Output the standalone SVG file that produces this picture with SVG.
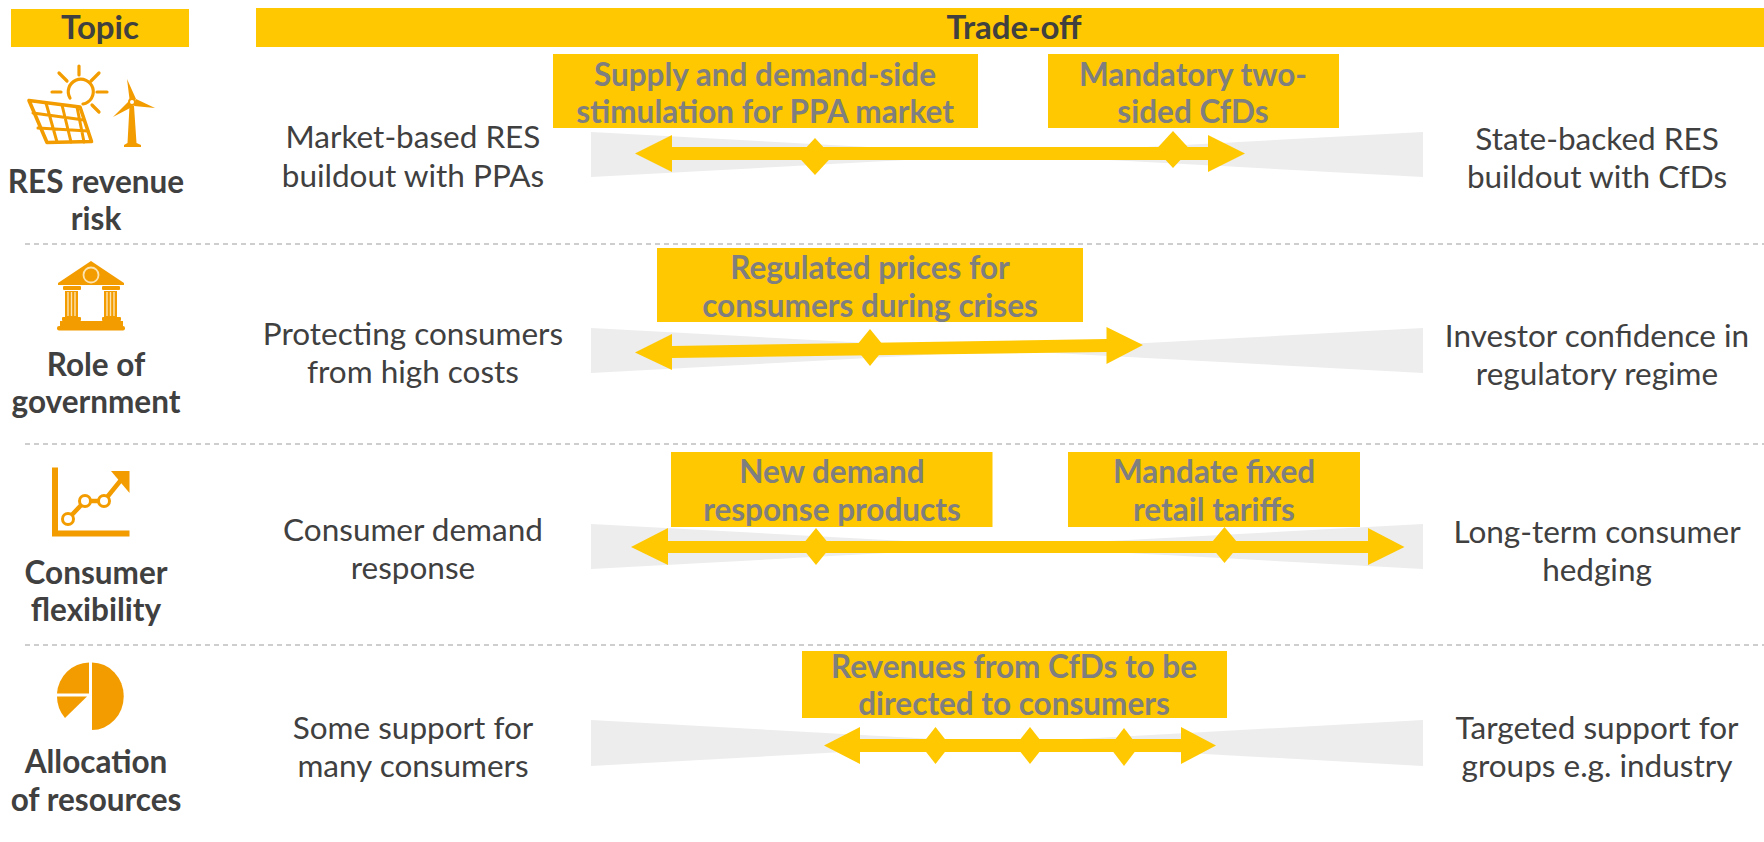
<svg xmlns="http://www.w3.org/2000/svg" width="1764" height="842" viewBox="0 0 1764 842">
<style>
text{font-family:Lato,"Liberation Sans",sans-serif;text-anchor:middle}
.hd{fill:#FFC800}
.hdt{font-size:33px;font-weight:700;fill:#404040}
.tp{font-size:31.500px;font-weight:700;fill:#404040}
.lb{font-size:31.500px;fill:#404040}
.bx{font-size:31.500px;font-weight:700;fill:#7F7F7F}
.band{fill:#EDEDED}
.ar{fill:#FFC800}
.sep{stroke:#BFBFBF;stroke-width:1.5;stroke-dasharray:5 4;fill:none}
.ic{fill:#F39C00}
.ics{fill:none;stroke:#F39C00;stroke-linecap:round;stroke-linejoin:round}
.pale{fill:none;stroke:#FCE3B0}
</style>
<rect width="1764" height="842" fill="#fff"/>
<g id="header-topic"><rect class="hd" x="11" y="9" width="178" height="38"/><text class="hdt" x="100" y="39">Topic</text></g>
<g id="header-tradeoff"><rect class="hd" x="256" y="8" width="1508" height="39"/><text class="hdt" x="1014" y="39">Trade-off</text></g>
<g id="separators">
<line class="sep" x1="25" y1="244" x2="1764" y2="244"/>
<line class="sep" x1="25" y1="444" x2="1764" y2="444"/>
<line class="sep" x1="25" y1="645" x2="1764" y2="645"/>
</g>

<g id="topic-res">
<g id="icon-res">
<path class="ics" stroke-width="3.200" d="M70 98A12.500 12.500 0 1 1 83 104"/>
<path class="ics" stroke-width="3.200" d="M79 66V75M59 73L67 81M99 73L91 81M52 92H61M97 92H107M92 105L99 112"/>
<path class="ics" stroke-width="3.600" d="M29 100.500L80 107L91.500 141.500L47 142.500Z"/>
<path class="ics" stroke-width="3" d="M33 113L84 120M38 128L88 131M46 103L57 142M62 105L71 142M77 107L84 142" />
<path class="ic" d="M129.500 106H134L136.500 143L141 145V147H124V145L127.500 143Z"/>
<path class="ic" d="M127 79L136 99L130 103Z M155 108L136 99L134 106Z M113 117L129 101L132 107Z"/>
<circle cx="132" cy="102" r="3" fill="#fff" stroke="#F39C00" stroke-width="2"/>
</g>
<text class="tp" x="96" y="193">RES revenue</text><text class="tp" x="96" y="230">risk</text>
</g>
<g id="topic-gov">
<g id="icon-gov">
<path class="ic" d="M91 261L124 283V285H58V283Z"/>
<circle class="pale" cx="91" cy="275" r="7.500" stroke-width="1.800"/>
<rect class="ic" x="63" y="286" width="18" height="4" rx="1"/><rect class="ic" x="102" y="286" width="18" height="4" rx="1"/>
<rect class="ic" x="65" y="291" width="13" height="26"/><rect class="ic" x="104" y="291" width="13" height="26"/>
<path class="pale" stroke-width="1.400" d="M68 292V316M71.500 292V316M75 292V316M107 292V316M110.500 292V316M114 292V316"/>
<rect class="ic" x="62" y="317" width="19" height="4" rx="1"/><rect class="ic" x="102" y="317" width="19" height="4" rx="1"/>
<rect class="ic" x="60" y="321" width="63" height="5"/><rect class="ic" x="57" y="326" width="68" height="4.500" rx="2"/>
</g>
<text class="tp" x="96" y="376">Role of</text><text class="tp" x="96" y="413">government</text>
</g>
<g id="topic-flex">
<g id="icon-flex">
<path class="ics" style="stroke-linecap:butt;stroke-linejoin:miter" stroke-width="6" d="M55 467.500V533.500H129.500"/>
<path class="ics" stroke-width="4.500" d="M68 519L85 501H104L121 480"/>
<path class="ic" d="M111 471H129.500V493Z"/>
<circle cx="68" cy="519" r="5.500" fill="#fff" stroke="#F39C00" stroke-width="3"/>
<circle cx="85" cy="501" r="5.500" fill="#fff" stroke="#F39C00" stroke-width="3"/>
<circle cx="104" cy="501" r="5.500" fill="#fff" stroke="#F39C00" stroke-width="3"/>
</g>
<text class="tp" x="96" y="584">Consumer</text><text class="tp" x="96" y="621">flexibility</text>
</g>
<g id="topic-alloc">
<g id="icon-alloc">
<path class="ic" d="M92 662.500A31.500 33.500 0 0 1 92 730Z"/>
<path class="ic" d="M89 662.500V693.500H57A33 33 0 0 1 89 662.500Z"/>
<path class="ic" d="M57 696.500H87L65 718A33 33 0 0 1 57 696.500Z"/>
</g>
<text class="tp" x="96" y="773">Allocation</text><text class="tp" x="96" y="811">of resources</text>
</g>

<g id="row-labels">
<g id="left-res"><text class="lb" x="413" y="148">Market-based RES</text><text class="lb" x="413" y="187">buildout with PPAs</text></g>
<g id="right-res"><text class="lb" x="1597" y="150">State-backed RES</text><text class="lb" x="1597" y="188">buildout with CfDs</text></g>
<g id="left-gov"><text class="lb" x="413" y="345">Protecting consumers</text><text class="lb" x="413" y="383">from high costs</text></g>
<g id="right-gov"><text class="lb" x="1597" y="347">Investor confidence in</text><text class="lb" x="1597" y="385">regulatory regime</text></g>
<g id="left-flex"><text class="lb" x="413" y="541">Consumer demand</text><text class="lb" x="413" y="579">response</text></g>
<g id="right-flex"><text class="lb" x="1597" y="543">Long-term consumer</text><text class="lb" x="1597" y="581">hedging</text></g>
<g id="left-alloc"><text class="lb" x="413" y="739">Some support for</text><text class="lb" x="413" y="777">many consumers</text></g>
<g id="right-alloc"><text class="lb" x="1597" y="739">Targeted support for</text><text class="lb" x="1597" y="777">groups e.g. industry</text></g>
</g>

<g id="bands">
<path class="band" d="M591 132L1007 154.500L1423 132V177L1007 154.500L591 177Z"/>
<path class="band" d="M591 328L1007 350.500L1423 328V373L1007 350.500L591 373Z"/>
<path class="band" d="M591 524L1007 546.500L1423 524V569L1007 546.500L591 569Z"/>
<path class="band" d="M591 720L1007 743L1423 720V766L1007 743L591 766Z"/>
</g>

<g id="connectors">
<g id="arrow-res">
<path class="ar" d="M635 153.500L672 135V147H1208V135L1245 153.500L1208 172V160H672V172Z"/>
<path class="ar" d="M815 138L832 156.500L815 175L798 156.500Z"/>
<path class="ar" d="M1173 131L1190 149.500L1173 168L1156 149.500Z"/>
</g>
<g id="arrow-gov">
<path class="ar" d="M635 352.500L672 334V346L1106.500 339V327L1143 345L1106.500 364V352L672 358V370Z"/>
<path class="ar" d="M870 329L885 347.500L870 366L855 347.500Z"/>
</g>
<g id="arrow-flex">
<path class="ar" d="M631 547L668 528V541H1368V528L1404.500 547L1368 565V553H668V565Z"/>
<path class="ar" d="M816 528L831 546.500L816 565L801 546.500Z"/>
<path class="ar" d="M1224.500 527L1239.500 545L1224.500 563L1209.500 545Z"/>
</g>
<g id="arrow-alloc">
<path class="ar" d="M824 745.500L860 727V739H1181V727L1216 745.500L1181 764V752H860V764Z"/>
<path class="ar" d="M935.500 727L950 745.500L935.500 764L921 745.500Z"/>
<path class="ar" d="M1030 727L1044.500 745.500L1030 764L1015.500 745.500Z"/>
<path class="ar" d="M1124 728L1138.500 747L1124 766L1109.500 747Z"/>
</g>
</g>

<g id="box-supply"><rect class="hd" x="553" y="54" width="425" height="74"/><text class="bx" x="765" y="86">Supply and demand-side</text><text class="bx" x="765" y="123">stimulation for PPA market</text></g>
<g id="box-mandatory"><rect class="hd" x="1048" y="54" width="291" height="74"/><text class="bx" x="1193" y="86">Mandatory two-</text><text class="bx" x="1193" y="123">sided CfDs</text></g>
<g id="box-regulated"><rect class="hd" x="657" y="248" width="426" height="74"/><text class="bx" x="870" y="279">Regulated prices for</text><text class="bx" x="870" y="317">consumers during crises</text></g>
<g id="box-newdemand"><rect class="hd" x="671" y="452" width="321.500" height="75"/><text class="bx" x="832" y="483">New demand</text><text class="bx" x="832" y="521">response products</text></g>
<g id="box-mandate"><rect class="hd" x="1068" y="452" width="292" height="75"/><text class="bx" x="1214" y="483">Mandate fixed</text><text class="bx" x="1214" y="521">retail tariffs</text></g>
<g id="box-revenues"><rect class="hd" x="802" y="651" width="425" height="67"/><text class="bx" x="1014" y="678">Revenues from CfDs to be</text><text class="bx" x="1014" y="715">directed to consumers</text></g>
</svg>
